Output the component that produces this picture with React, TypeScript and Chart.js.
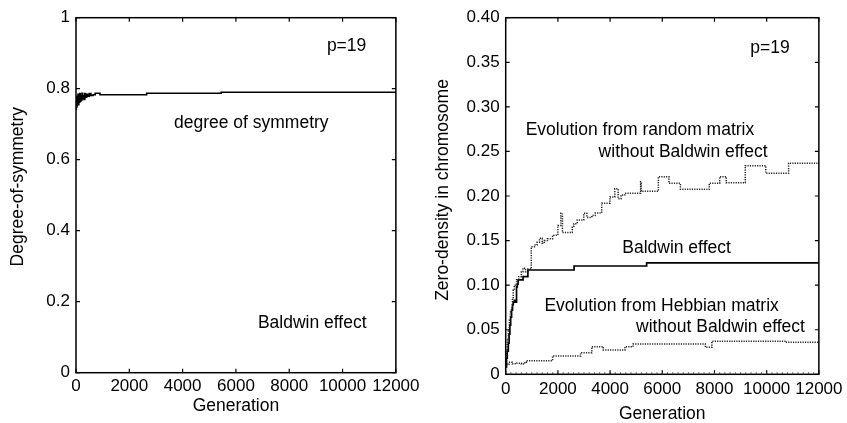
import React, { useEffect, useRef } from 'react';
import { Chart, registerables } from 'chart.js';

Chart.register(...registerables);

const FONT = '"Liberation Sans", Arial, Helvetica, sans-serif';

// Axis ticks
const genTicks = [0, 2000, 4000, 6000, 8000, 10000, 12000];
const symTicks = [0, 0.2, 0.4, 0.6, 0.8, 1];
const zeroTicks = [0, 0.05, 0.1, 0.15, 0.2, 0.25, 0.3, 0.35, 0.4];

// Degree of symmetry (Baldwin effect)
const symGen = [0, 10, 20, 30, 40, 50, 60, 75, 90, 105, 120, 140, 160, 180, 200, 225, 250, 275, 300, 330, 360, 400, 440, 500, 560, 640, 720, 900, 2650, 5450, 12000];
const symValue = [0.742, 0.770, 0.748, 0.778, 0.752, 0.775, 0.758, 0.784, 0.755, 0.776, 0.762, 0.786, 0.765, 0.779, 0.768, 0.787, 0.772, 0.781, 0.770, 0.786, 0.776, 0.784, 0.779, 0.786, 0.781, 0.783, 0.787, 0.783, 0.787, 0.790, 0.790];

// Zero-density: Baldwin effect
const baldwinGen = [0, 30, 60, 100, 130, 160, 190, 225, 260, 290, 330, 380, 415, 445, 475, 560, 665, 760, 850, 2620, 5400, 12000];
const baldwinZero = [0.008, 0.018, 0.026, 0.035, 0.045, 0.055, 0.064, 0.072, 0.078, 0.081, 0.083, 0.081, 0.098, 0.101, 0.106, 0.106, 0.1095, 0.1095, 0.117, 0.1215, 0.125, 0.125];

// Zero-density: evolution from random matrix, no Baldwin effect
const randomGen = [0, 30, 60, 100, 140, 180, 226, 260, 290, 330, 415, 500, 600, 660, 760, 850, 980, 1100, 1200, 1294, 1400, 1480, 1600, 1795, 1925, 2000, 2113, 2175, 2550, 2615, 2740, 2990, 3110, 3300, 3430, 3680, 3995, 4180, 4310, 4420, 4560, 5170, 5190, 5850, 6256, 6695, 7800, 8200, 8450, 9180, 9965, 10840, 12000];
const randomZero = [0.013, 0.025, 0.0385, 0.05, 0.062, 0.07, 0.076, 0.085, 0.0946, 0.1, 0.106, 0.1095, 0.115, 0.119, 0.115, 0.118, 0.143, 0.145, 0.148, 0.1525, 0.147, 0.150, 0.152, 0.156, 0.156, 0.167, 0.1806, 0.159, 0.166, 0.169, 0.173, 0.1806, 0.176, 0.178, 0.181, 0.192, 0.199, 0.208, 0.197, 0.201, 0.203, 0.216, 0.2053, 0.2217, 0.2143, 0.2075, 0.2143, 0.2217, 0.215, 0.234, 0.2255, 0.2367, 0.2367];

// Zero-density: evolution from Hebbian matrix, no Baldwin effect
const hebbGen = [0, 60, 120, 250, 415, 600, 730, 790, 1795, 2870, 3300, 3740, 4570, 4880, 7650, 7900, 10730, 12000];
const hebbZero = [0.013, 0.011, 0.0135, 0.0118, 0.0125, 0.0116, 0.0135, 0.0153, 0.0205, 0.0242, 0.031, 0.0272, 0.031, 0.034, 0.0303, 0.037, 0.0359, 0.0359];

type Note = { text: string; gen: number; value: number };

const symNotes: Note[] = [
  { text: 'p=19', gen: 9412, value: 0.92 },
  { text: 'degree of symmetry', gen: 3675, value: 0.703 },
  { text: 'Baldwin effect', gen: 6825, value: 0.14 },
];

const zeroNotes: Note[] = [
  { text: 'p=19', gen: 9370, value: 0.366 },
  { text: 'Evolution from random matrix', gen: 766, value: 0.274 },
  { text: 'without Baldwin effect', gen: 3560, value: 0.2487 },
  { text: 'Baldwin effect', gen: 4465, value: 0.1417 },
  { text: 'Evolution from Hebbian matrix', gen: 1483, value: 0.0766 },
  { text: 'without Baldwin effect', gen: 4993, value: 0.0531 },
];

const pts = (xs: number[], ys: number[]) => xs.map((x, i) => ({ x, y: ys[i] }));

// Boxed frame with inward ticks, in-plot notes and axis titles
const framePlugin = {
  id: 'frame',
  afterDraw(chart: any, _args: any, opts: any) {
    const { ctx, chartArea: a, scales } = chart;
    const xs = scales.x;
    const ys = scales.y;
    ctx.save();
    ctx.strokeStyle = '#000';
    ctx.lineWidth = 1.5;
    ctx.strokeRect(a.left, a.top, a.right - a.left, a.bottom - a.top);

    ctx.lineWidth = 1.2;
    ctx.beginPath();
    for (const v of opts.xMajor) {
      const px = xs.getPixelForValue(v);
      ctx.moveTo(px, a.bottom);
      ctx.lineTo(px, a.bottom - 4);
      ctx.moveTo(px, a.top);
      ctx.lineTo(px, a.top + 4);
    }
    for (const v of opts.yMajor) {
      const py = ys.getPixelForValue(v);
      ctx.moveTo(a.left, py);
      ctx.lineTo(a.left + 4, py);
      ctx.moveTo(a.right, py);
      ctx.lineTo(a.right - 4, py);
    }
    ctx.stroke();

    if (opts.xMinorStep) {
      ctx.lineWidth = 1;
      ctx.strokeStyle = '#444';
      ctx.beginPath();
      for (let v = opts.xMinorStep; v < xs.max; v += opts.xMinorStep) {
        const px = xs.getPixelForValue(v);
        ctx.moveTo(px, a.bottom);
        ctx.lineTo(px, a.bottom - 2);
      }
      ctx.stroke();
    }

    ctx.fillStyle = '#000';
    ctx.font = `17.5px ${FONT}`;
    ctx.textBaseline = 'middle';
    ctx.textAlign = 'left';
    for (const n of opts.notes as Note[]) {
      ctx.fillText(n.text, xs.getPixelForValue(n.gen), ys.getPixelForValue(n.value));
    }

    ctx.textAlign = 'center';
    ctx.fillText(opts.xTitle, (a.left + a.right) / 2, a.bottom + opts.xTitleGap);
    ctx.translate(a.left - opts.yTitleGap, (a.top + a.bottom) / 2 + opts.yTitleShift);
    ctx.rotate(-Math.PI / 2);
    ctx.fillText(opts.yTitle, 0, 0);
    ctx.restore();
  },
};

type PanelProps = {
  width: number;
  datasets: any[];
  yTicks: number[];
  yMax: number;
  yFormat: (v: number) => string;
  notes: Note[];
  yTitle: string;
  layout: {
    yWidth: number;
    xHeight: number;
    top: number;
    right: number;
    xPad: number;
    xTitleGap: number;
    yTitleGap: number;
    yTitleShift: number;
    xMinorStep: number;
  };
};

function Panel({ width, datasets, yTicks, yMax, yFormat, notes, yTitle, layout }: PanelProps) {
  const ref = useRef<HTMLCanvasElement>(null);

  useEffect(() => {
    if (!ref.current) return;
    const tickFont = { family: FONT, size: 17 };
    const chart = new Chart(ref.current, {
      type: 'line',
      data: { datasets },
      options: {
        animation: false,
        responsive: false,
        devicePixelRatio: 1,
        layout: {
          autoPadding: false,
          padding: { left: 0, top: layout.top, right: layout.right, bottom: 0 },
        },
        plugins: {
          legend: { display: false },
          tooltip: { enabled: false },
          frame: {
            xMajor: genTicks,
            yMajor: yTicks,
            xMinorStep: layout.xMinorStep,
            notes,
            xTitle: 'Generation',
            yTitle,
            xTitleGap: layout.xTitleGap,
            yTitleGap: layout.yTitleGap,
            yTitleShift: layout.yTitleShift,
          },
        } as any,
        elements: { point: { radius: 0 } },
        scales: {
          x: {
            type: 'linear',
            min: 0,
            max: 12000,
            grid: { display: false, drawTicks: false },
            border: { display: false },
            afterBuildTicks: (s: any) => {
              s.ticks = genTicks.map((value) => ({ value }));
            },
            afterFit: (s: any) => {
              s.height = layout.xHeight;
            },
            ticks: {
              autoSkip: false,
              maxRotation: 0,
              padding: layout.xPad,
              color: '#000',
              font: tickFont,
              callback: (v: any) => String(v),
            },
          },
          y: {
            type: 'linear',
            min: 0,
            max: yMax,
            grid: { display: false, drawTicks: false },
            border: { display: false },
            afterBuildTicks: (s: any) => {
              s.ticks = yTicks.map((value) => ({ value }));
            },
            afterFit: (s: any) => {
              s.width = layout.yWidth;
            },
            ticks: {
              padding: 6,
              color: '#000',
              font: tickFont,
              callback: (v: any) => yFormat(Number(v)),
            },
          },
        },
      },
      plugins: [framePlugin],
    });
    return () => chart.destroy();
  }, []);

  return (
    <canvas
      ref={ref}
      width={width}
      height={423}
      style={{ display: 'block', width, height: 423 }}
    />
  );
}

export default function App() {
  const symDatasets = [
    {
      label: 'degree of symmetry',
      data: pts(symGen, symValue),
      borderColor: '#000',
      borderWidth: 1.6,
      stepped: true,
      fill: false,
    },
  ];

  const zeroDatasets = [
    {
      label: 'Evolution from random matrix without Baldwin effect',
      data: pts(randomGen, randomZero),
      borderColor: '#222',
      borderWidth: 1.5,
      borderDash: [1.2, 1.2],
      stepped: true,
      fill: false,
    },
    {
      label: 'Evolution from Hebbian matrix without Baldwin effect',
      data: pts(hebbGen, hebbZero),
      borderColor: '#222',
      borderWidth: 1.5,
      borderDash: [1.2, 1.2],
      stepped: true,
      fill: false,
    },
    {
      label: 'Baldwin effect',
      data: pts(baldwinGen, baldwinZero),
      borderColor: '#000',
      borderWidth: 1.7,
      stepped: true,
      fill: false,
    },
  ];

  return (
    <div
      style={{
        position: 'fixed',
        left: 0,
        top: 0,
        width: 847,
        height: 423,
        background: '#fff',
        display: 'flex',
      }}
    >
      <Panel
        width={423}
        datasets={symDatasets}
        yTicks={symTicks}
        yMax={1}
        yFormat={(v) => String(Math.round(v * 10) / 10)}
        notes={symNotes}
        yTitle="Degree-of-symmetry"
        layout={{
          yWidth: 76,
          xHeight: 50.3,
          top: 17.7,
          right: 27,
          xPad: 3.5,
          xTitleGap: 33.5,
          yTitleGap: 58,
          yTitleShift: -8.5,
          xMinorStep: 0,
        }}
      />
      <Panel
        width={424}
        datasets={zeroDatasets}
        yTicks={zeroTicks}
        yMax={0.4}
        yFormat={(v) => (v === 0 ? '0' : v.toFixed(2))}
        notes={zeroNotes}
        yTitle="Zero-density in chromosome"
        layout={{
          yWidth: 82.7,
          xHeight: 48.7,
          top: 17.7,
          right: 24,
          xPad: 4.5,
          xTitleGap: 40,
          yTitleGap: 62.7,
          yTitleShift: -6,
          xMinorStep: 200,
        }}
      />
    </div>
  );
}
